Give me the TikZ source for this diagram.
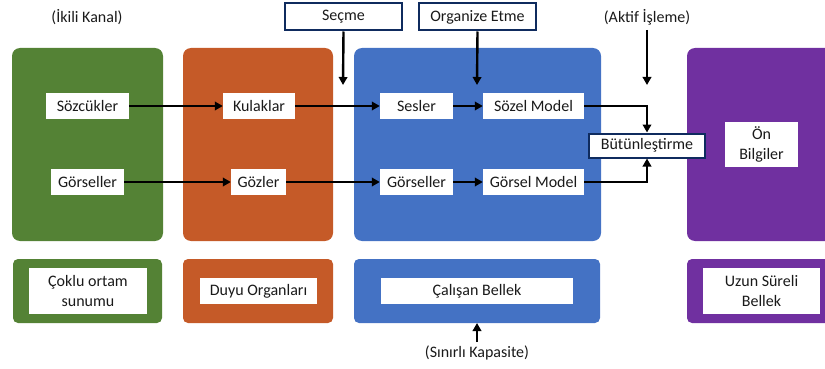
\documentclass[tikz,border=0pt]{standalone}
\usepackage{fontspec}
\setmainfont{Carlito}
\usetikzlibrary{arrows.meta}
\definecolor{cgreen}{HTML}{548235}
\definecolor{corange}{HTML}{C55A28}
\definecolor{cblue}{HTML}{4472C4}
\definecolor{cpurple}{HTML}{7030A0}
\definecolor{cnavy}{HTML}{0F2B5E}
\definecolor{ctext}{HTML}{1A1A1A}
\begin{document}
\begin{tikzpicture}[x=1pt,y=-1pt,
  every node/.style={font=\fontsize{16}{19.5}\selectfont, text=ctext, inner sep=0pt},
  item/.style={fill=white, minimum height=26pt, align=center},
  stagebox/.style={fill=white, draw=cnavy, line width=2pt, minimum height=27pt},
  flow/.style={line width=2.4pt, -{Triangle[length=8pt,width=8.5pt]}}
]
\clip (0,0) rectangle (825,369);
\useasboundingbox (0,0) rectangle (825,369);

% large stage panels
\fill[cgreen, rounded corners=8pt] (12,48) rectangle (163,241);
\fill[corange, rounded corners=8pt] (183,48) rectangle (333,241);
\fill[cblue, rounded corners=8pt] (354,48) rectangle (601,241);
\fill[cpurple, rounded corners=8pt] (687,48) rectangle (845,241);

% small label panels
\fill[cgreen, rounded corners=5pt] (13,259) rectangle (162,323);
\fill[corange, rounded corners=5pt] (183,259) rectangle (333,323);
\fill[cblue, rounded corners=5pt] (354,259) rectangle (600,323);
\fill[cpurple, rounded corners=5pt] (687,259) rectangle (845,323);
\coordinate (wmbottom) at (477,323);

\node[item, minimum width=118pt, minimum height=46pt] (lmulti) at (88,291) {Çoklu ortam\\sunumu};
\node[item, minimum width=117pt] (lsense) at (258.5,291) {Duyu Organları};
\node[item, minimum width=192pt] (lwork) at (477,291) {Çalışan Bellek};
\node[item, minimum width=117pt, minimum height=46pt] (llong) at (761.5,291) {Uzun Süreli\\Bellek};

% content items
\node[item, minimum width=83pt] (words) at (87.5,106) {Sözcükler};
\node[item, minimum width=73pt] (pics) at (87.5,182) {Görseller};
\node[item, minimum width=72pt] (ears) at (259,106) {Kulaklar};
\node[item, minimum width=55pt] (eyes) at (258.5,182) {Gözler};
\node[item, minimum width=73pt] (sounds) at (416.5,106) {Sesler};
\node[item, minimum width=73pt] (images) at (416.5,182) {Görseller};
\node[item, minimum width=101pt] (verbal) at (533.5,106) {Sözel Model};
\node[item, minimum width=101pt] (pictorial) at (533.5,182) {Görsel Model};
\node[item, minimum width=73pt, minimum height=45pt] (prior) at (761.5,144.5) {Ön\\Bilgiler};

% process labels
\node[stagebox, minimum width=117pt] (select) at (343.5,17) {Seçme};
\node[stagebox, minimum width=117pt] (organize) at (477.5,17) {Organize Etme};
\node[stagebox, minimum width=116pt, minimum height=24pt] (integrate) at (647,145.5) {Bütünleştirme};

\node (dual) at (87,17) {(İkili Kanal)};
\node (active) at (647,17) {(Aktif İşleme)};
\node (limited) at (477,353) {(Sınırlı Kapasite)};

\coordinate (selend) at (343,85);
\coordinate (orgend) at (477,85);
\coordinate (actend) at (647,85);
\coordinate (actstart) at (647,30);
\coordinate (limstart) at (477,342);

% connectors
\draw[flow] (words) -- (ears);
\draw[flow] (ears) -- (sounds);
\draw[flow] (pics) -- (eyes);
\draw[flow] (eyes) -- (images);
\draw[flow] (sounds) -- (verbal);
\draw[flow] (images) -- (pictorial);
\draw[flow] (verbal.east) -| (integrate.north);
\draw[flow] (pictorial.east) -| (integrate.south);
\draw[flow] (select.south) -- (selend);
\draw[flow] (organize.south) -- (orgend);
\draw[flow] (actstart) -- (actend);
\draw[flow] (limstart) -- (wmbottom);
\end{tikzpicture}
\end{document}
